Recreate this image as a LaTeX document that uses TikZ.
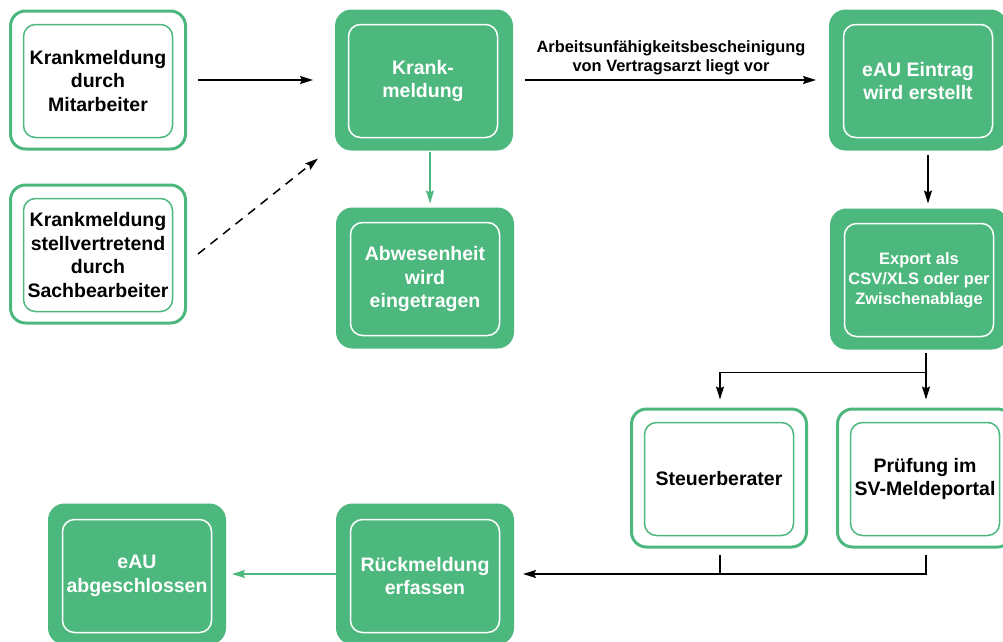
\documentclass[tikz,border=0pt]{standalone}
\usepackage{fontspec}
\setmainfont{Liberation Sans}
\usetikzlibrary{arrows.meta}
\definecolor{eaugreen}{HTML}{4DB87E}

\tikzset{
  box/.style={rectangle, rounded corners=15pt, minimum width=175pt, minimum height=138pt, line width=3pt},
  outerw/.style={box, draw=eaugreen, fill=white},
  outerg/.style={box, draw=eaugreen, fill=eaugreen},
  inner/.style={rectangle, rounded corners=12pt, minimum width=149pt, minimum height=113pt, inner sep=2pt,
    line width=1.5pt, align=center, font=\bfseries\fontsize{19.5}{23.5}\selectfont},
  innerw/.style={inner, draw=eaugreen, text=black},
  innerg/.style={inner, draw=white, text=white},
  flow/.style={->, line width=1.5pt},
  gflow/.style={flow, color=eaugreen}
}

\begin{document}
\begin{tikzpicture}[x=1pt, y=-1pt, >={Stealth[length=13pt, width=8pt, inset=2pt]}]
  \useasboundingbox (0,0) rectangle (1003,641);
  % left column
  \node[outerw] (mit) at (98,80) {};
  \node[innerw] (mit-i) at (98,81) {Krankmeldung\\durch\\Mitarbeiter};
  \node[outerw] (sach) at (98,254) {};
  \node[innerw] (sach-i) at (98,255) {Krankmeldung\\stellvertretend\\durch\\Sachbearbeiter};
  % middle column
  \node[outerg] (krank) at (424,80) {};
  \node[innerg] (krank-i) at (423,81) {Krank-\\meldung};
  \node[outerg] (abw) at (425,278) {};
  \node[innerg] (abw-i) at (425,279) {Abwesenheit\\wird\\eingetragen};
  % right column
  \node[outerg] (eintrag) at (918,80) {};
  \node[innerg] (eintrag-i) at (918,81) {eAU Eintrag\\wird erstellt};
  \node[outerg] (export) at (919,279) {};
  \node[innerg, font=\bfseries\fontsize{16.5}{20}\selectfont] (export-i) at (919,280) {Export als\\CSV/XLS oder per\\Zwischenablage};
  \node[outerw] (steuer) at (719,478) {};
  \node[innerw] (steuer-i) at (719,479) {Steuerberater};
  \node[outerw] (pruef) at (925,478) {};
  \node[innerw] (pruef-i) at (925,479) {Prüfung im\\SV-Meldeportal};
  % bottom row
  \node[outerg] (rueck) at (425,574) {};
  \node[innerg] (rueck-i) at (425,576) {Rückmeldung\\erfassen};
  \node[outerg] (fertig) at (137,574) {};
  \node[innerg] (fertig-i) at (137,576) {eAU\\abgeschlossen};

  \draw[flow, shorten <=11pt, shorten >=22pt] (mit) -- (krank);
  \draw[flow, dash pattern=on 9pt off 7pt] ([xshift=11pt]sach.east) -- ([shift={(-17pt,-8pt)}]krank.south west);
  \draw[flow, shorten <=12pt, shorten >=13pt] (krank) --
    node[above=1pt, align=center, font=\bfseries\fontsize{16.4}{18.5}\selectfont]
    {Arbeitsunfähigkeitsbescheinigung\\von Vertragsarzt liegt vor} (eintrag);
  \draw[gflow, shorten <=1pt, shorten >=4pt] ([xshift=6pt]krank.south) -- ([xshift=5pt]abw.north);
  \draw[flow, shorten <=4pt, shorten >=5pt] ([xshift=10pt]eintrag.south) -- ([xshift=9pt]export.north);
  \draw[flow, shorten <=3pt, shorten >=8pt] ([xshift=7pt]export.south) -- ([xshift=1pt]pruef.north);
  \draw[flow, shorten >=8pt] ([shift={(7pt,-23pt)}]export.south) -| ([xshift=1pt]steuer.north);
  \draw[flow, shorten <=6pt, shorten >=9pt] ([xshift=1pt]pruef.south) |- (rueck.east);
  \draw[line width=1.5pt, shorten <=6pt] ([xshift=1pt]steuer.south) -- ([xshift=1pt]steuer.south |- rueck.east);
  \draw[gflow, shorten >=6pt] (rueck) -- (fertig);
\end{tikzpicture}
\end{document}
